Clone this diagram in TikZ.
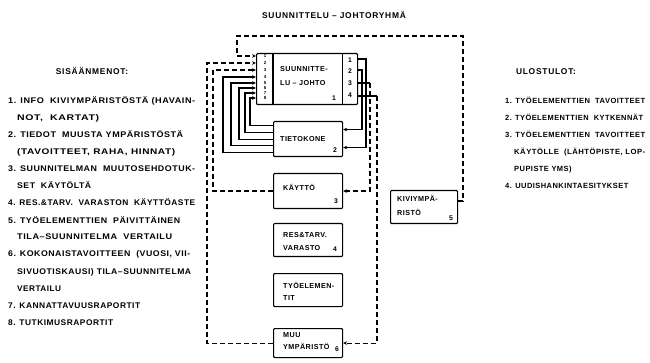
\documentclass[tikz,border=0pt]{standalone}
\usepackage{graphicx}
\usepackage{fontspec}
\setmainfont[LetterSpace=4]{Liberation Sans}
\newfontfamily\widefont[LetterSpace=9]{Liberation Sans}
\newfontfamily\listfont[LetterSpace=6]{Liberation Sans}
\newfontfamily\midfont[LetterSpace=6]{Liberation Sans}
\newcommand\hfitline[2]{\resizebox{#1pt}{\height}{#2}}
\usetikzlibrary{arrows.meta}
\begin{document}
\begin{tikzpicture}[x=1pt,y=-1pt,
  box/.style={draw, line width=1.1pt, rounded corners=1pt, inner sep=0pt, anchor=north west},
  wire/.style={line width=1.1pt},
  dwire/.style={line width=1.1pt, dash pattern=on 5pt off 3pt},
  arr/.style={-{Stealth[length=4pt,width=3.6pt]}},
  txt/.style={anchor=base west, inner sep=0pt, font=\listfont\bfseries\fontsize{8.2}{10}\selectfont},
  rtxt/.style={anchor=base west, inner sep=0pt, font=\midfont\bfseries\fontsize{7.5}{9}\selectfont},
  btxt/.style={anchor=base west, inner sep=0pt, font=\midfont\bfseries\fontsize{7.2}{8}\selectfont},
  hdr/.style={anchor=base, inner sep=0pt, font=\widefont\bfseries\fontsize{8.4}{10}\selectfont},
  tiny/.style={anchor=center, inner sep=0pt, font=\bfseries\fontsize{4.4}{5}\selectfont},
  num/.style={anchor=center, inner sep=0pt, font=\bfseries\fontsize{6.8}{8}\selectfont}]
\useasboundingbox (0,0) rectangle (650,363);

% title
\node[hdr] (title) at (334,19) {SUUNNITTELU – JOHTORYHMÄ};

% boxes
\node[box, minimum width=101pt, minimum height=51pt] (b1) at (256,53) {};
\draw[line width=1.1pt] ([xshift=17pt]b1.north west) -- ([xshift=17pt]b1.south west);
\draw[line width=1.1pt] ([xshift=-16pt]b1.north east) -- ([xshift=-16pt]b1.south east);
\node[box, minimum width=69pt, minimum height=35pt] (tk) at (273,121) {};
\node[box, minimum width=69pt, minimum height=35pt] (kay) at (273,173) {};
\node[box, minimum width=69pt, minimum height=33pt] (res) at (273,223) {};
\node[box, minimum width=69pt, minimum height=33pt] (tyo) at (273,273) {};
\node[box, minimum width=69pt, minimum height=29pt] (muu) at (273,328) {};
\node[box, minimum width=67pt, minimum height=33pt] (kivi) at (390,190) {};

% box texts
\node[btxt] (t1a) at (280,72) {SUUNNITTE-};
\node[btxt] (t1b) at (280,86) {LU – JOHTO};
\node[num] (t1n) at (334,98) {1};
\node[num] (r1) at (350,60) {1};
\node[num] (r2) at (350,71) {2};
\node[num] (r3) at (350,83) {3};
\node[num] (r4) at (350,95) {4};
\node[tiny] (l1) at (265,56) {1};
\node[tiny] (l2) at (265,63) {2};
\node[tiny] (l3) at (265,70) {3};
\node[tiny] (l4) at (265,77) {4};
\node[tiny] (l5) at (265,83) {5};
\node[tiny] (l6) at (265,88) {6};
\node[tiny] (l7) at (265,93) {7};
\node[tiny] (l8) at (265,98) {8};
\node[btxt] (t2) at (280,142) {TIETOKONE};
\node[num] (t2n) at (335,150) {2};
\node[btxt] (t3) at (283,191) {KÄYTTÖ};
\node[num] (t3n) at (336,201) {3};
\node[btxt] (t4a) at (283,238) {RES\&TARV.};
\node[btxt] (t4b) at (283,251) {VARASTO};
\node[num] (t4n) at (335,249) {4};
\node[btxt] (t5a) at (283,288) {TYÖELEMEN-};
\node[btxt] (t5b) at (283,300) {TIT};
\node[btxt] (t6a) at (283,337) {MUU};
\node[btxt] (t6b) at (283,349) {YMPÄRISTÖ};
\node[num] (t6n) at (337,349) {6};
\node[btxt] (t7a) at (397,202) {KIVIYMPÄ-};
\node[btxt] (t7b) at (397,216) {RISTÖ};
\node[num] (t7n) at (451,218) {5};

% entry / exit points on box 1
\coordinate (in1) at (256,56);
\coordinate (in2) at (256,63);
\coordinate (in3) at (256,70);
\coordinate (in4) at (256,77);
\coordinate (in5) at (256,83);
\coordinate (in6) at (256,88);
\coordinate (in7) at (256,93);
\coordinate (in8) at (256,98);
\coordinate (out1) at (357,59);
\coordinate (out2) at (357,70);
\coordinate (out3) at (357,83);
\coordinate (out4) at (357,96);

% dashed feedback lines
\draw[dwire,arr] ([yshift=6pt]kivi.east) -| (463,36) -| (237,56) -- (in1);
\draw[dwire,arr] (muu.west) -| (207,63) -- (in2);
\draw[dwire,arr] (kay.west) -| (213,70) -- (in3);
\draw[wire] (out3) -- (370,83);
\draw[dwire,arr] (370,83) |- (kay.east);
\draw[wire] (out4) -- (377,96);
\draw[dwire,arr] (377,96) |- (muu.east);

% solid lines
\draw[wire,arr] (out1) -| (366,100) |- ([yshift=-8.5pt]tk.east);
\draw[wire,arr] (out2) -| (362,100) |- ([yshift=9.5pt]tk.east);
\draw[wire,arr] ([yshift=-13.5pt]tk.west) -| (223,77) -- (in4);
\draw[wire,arr] ([yshift=-6.5pt]tk.west) -| (231,83) -- (in5);
\draw[wire,arr] ([yshift=-0.5pt]tk.west) -| (239,88) -- (in6);
\draw[wire,arr] ([yshift=6.5pt]tk.west) -| (245,93) -- (in7);
\draw[wire,arr] ([yshift=13.5pt]tk.west) -| (250,98) -- (in8);

% left list
\node[hdr] (sh) at (92,75) {SISÄÄNMENOT:};
\node[txt] (s1a) at (8,104) {\hfitline{187}{1. INFO \ KIVIYMPÄRISTÖSTÄ (HAVAIN-}};
\node[txt] (s1b) at (17,121) {\hfitline{82}{NOT, \ KARTAT)}};
\node[txt] (s2a) at (8,138) {\hfitline{175}{2. TIEDOT \ MUUSTA YMPÄRISTÖSTÄ}};
\node[txt] (s2b) at (17,155) {\hfitline{158}{(TAVOITTEET, RAHA, HINNAT)}};
\node[txt] (s3a) at (8,172) {\hfitline{187}{3. SUUNNITELMAN \ MUUTOSEHDOTUK-}};
\node[txt] (s3b) at (17,189) {\hfitline{74}{SET \ KÄYTÖLTÄ}};
\node[txt] (s4) at (8,206) {\hfitline{187}{4. RES.\&TARV. \ VARASTON \ KÄYTTÖASTE}};
\node[txt] (s5a) at (8,223) {\hfitline{172}{5. TYÖELEMENTTIEN \ PÄIVITTÄINEN}};
\node[txt] (s5b) at (17,240) {\hfitline{155}{TILA–SUUNNITELMA \ VERTAILU}};
\node[txt] (s6a) at (8,257) {\hfitline{182}{6. KOKONAISTAVOITTEEN \ (VUOSI, VII-}};
\node[txt] (s6b) at (17,274) {\hfitline{174}{SIVUOTISKAUSI) TILA–SUUNNITELMA}};
\node[txt] (s6c) at (17,291) {VERTAILU};
\node[txt] (s7) at (8,308) {\hfitline{132}{7. KANNATTAVUUSRAPORTIT}};
\node[txt] (s8) at (8,325) {\hfitline{105}{8. TUTKIMUSRAPORTIT}};

% right list
\node[hdr] (uh) at (546,75) {ULOSTULOT:};
\node[rtxt] (u1) at (505,104) {\hfitline{140}{1. TYÖELEMENTTIEN \ TAVOITTEET}};
\node[rtxt] (u2) at (505,121) {\hfitline{138}{2. TYÖELEMENTTIEN \ KYTKENNÄT}};
\node[rtxt] (u3a) at (505,138) {\hfitline{140}{3. TYÖELEMENTTIEN \ TAVOITTEET}};
\node[rtxt] (u3b) at (514,155) {\hfitline{131}{KÄYTÖLLE \ (LÄHTÖPISTE, LOP-}};
\node[rtxt] (u3c) at (514,172) {PUPISTE YMS)};
\node[rtxt] (u4) at (505,189) {4. UUDISHANKINTAESITYKSET};
\end{tikzpicture}
\end{document}
